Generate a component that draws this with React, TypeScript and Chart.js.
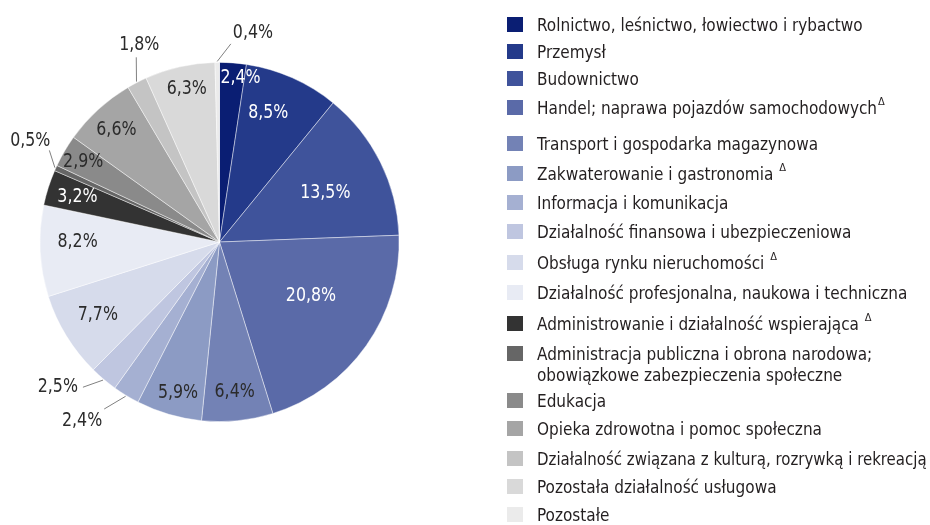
import React, { useEffect, useRef } from "react";
import { Chart, registerables } from "chart.js";

Chart.register(...registerables);

const categories: string[] = [
  "Rolnictwo, leśnictwo, łowiectwo i rybactwo",
  "Przemysł",
  "Budownictwo",
  "Handel; naprawa pojazdów samochodowych",
  "Transport i gospodarka magazynowa",
  "Zakwaterowanie i gastronomia ",
  "Informacja i komunikacja",
  "Działalność finansowa i ubezpieczeniowa",
  "Obsługa rynku nieruchomości ",
  "Działalność profesjonalna, naukowa i techniczna",
  "Administrowanie i działalność wspierająca ",
  "Administracja publiczna i obrona narodowa;\nobowiązkowe zabezpieczenia społeczne",
  "Edukacja",
  "Opieka zdrowotna i pomoc społeczna",
  "Działalność związana z kulturą, rozrywką i rekreacją",
  "Pozostała działalność usługowa",
  "Pozostałe",
];

const deltaMarked: boolean[] = [
  false, false, false, true, false, true, false, false, true, false, true,
  false, false, false, false, false, false,
];

const shares: number[] = [
  2.4, 8.5, 13.5, 20.8, 6.4, 5.9, 2.4, 2.5, 7.7, 8.2, 3.2, 0.5, 2.9, 6.6, 1.8, 6.3, 0.4,
];

const colors: string[] = [
  "#0a1e73", "#243a8a", "#3f539b", "#5a6aa8", "#7382b5", "#8c9bc4", "#a5b0d2",
  "#bfc6e0", "#d6dbeb", "#e8ebf4", "#333333", "#666666", "#8a8a8a", "#a5a5a5",
  "#c4c4c4", "#d9d9d9", "#ebebeb",
];

// label placement (style/layout only)
type LabelCfg =
  | { out?: false; da: number; rf: number; light: boolean }
  | { out: true; da: number; k: number; dx: number; dy: number; align: CanvasTextAlign };

const labelCfg: LabelCfg[] = [
  { da: 3, rf: 0.92, light: true },
  { da: -3.3, rf: 0.77, light: true },
  { da: 1.5, rf: 0.65, light: true },
  { da: -5, rf: 0.59, light: true },
  { da: 0, rf: 0.84, light: false },
  { da: -1, rf: 0.87, light: false },
  { out: true, da: 3.3, k: 1.13, dx: -2, dy: 12, align: "right" },
  { out: true, da: 3.1, k: 1.11, dx: -5, dy: 0, align: "right" },
  { da: 0.5, rf: 0.79, light: false },
  { da: 3, rf: 0.79, light: false },
  { da: 0, rf: 0.83, light: true },
  { out: true, da: 4, k: 1.076, dx: 1, dy: -10, align: "right" },
  { da: 0, rf: 0.88, light: false },
  { da: 0, rf: 0.85, light: false },
  { out: true, da: 3.1, k: 1.128, dx: 3, dy: -13, align: "center" },
  { da: 0.7, rf: 0.87, light: false },
  { out: true, da: 4, k: 1.105, dx: 2, dy: -11, align: "left" },
];

const legendSwatchY: number[] = [
  24, 51, 78, 107, 143, 173, 202, 231, 262, 292, 323, 353, 400, 428, 458, 486, 514,
];

const FONT = "'Liberation Sans Narrow', 'DejaVu Sans Condensed', 'Roboto Condensed', Arial, sans-serif";
const LEGEND_MAX_W = 390;

const fmt = (v: number) => v.toFixed(1).replace(".", ",") + "%";

const labelPlugin = {
  id: "sliceLabels",
  afterDatasetsDraw(chart: any) {
    const ctx = chart.ctx as CanvasRenderingContext2D;
    const meta = chart.getDatasetMeta(0);
    const data = chart.data.datasets[0].data as number[];
    const drawText = (text: string, x: number, y: number, align: CanvasTextAlign) => {
      ctx.save();
      ctx.translate(x, y);
      ctx.scale(0.88, 1);
      ctx.textAlign = align;
      ctx.fillText(text, 0, 0);
      ctx.restore();
    };
    ctx.save();
    ctx.font = `20px ${FONT}`;
    ctx.textBaseline = "middle";
    meta.data.forEach((arc: any, i: number) => {
      const p = arc.getProps(["x", "y", "startAngle", "endAngle", "outerRadius"], true);
      const mid = (p.startAngle + p.endAngle) / 2;
      const cfg = labelCfg[i];
      const text = fmt(data[i]);
      const deg = Math.PI / 180;
      if (cfg.out) {
        const sx = p.x + Math.cos(mid) * (p.outerRadius + 1);
        const sy = p.y + Math.sin(mid) * (p.outerRadius + 1);
        const a2 = mid + cfg.da * deg;
        const ex = p.x + Math.cos(a2) * p.outerRadius * cfg.k;
        const ey = p.y + Math.sin(a2) * p.outerRadius * cfg.k;
        ctx.strokeStyle = "#808080";
        ctx.lineWidth = 1;
        ctx.beginPath();
        ctx.moveTo(sx, sy);
        ctx.lineTo(ex, ey);
        ctx.stroke();
        ctx.fillStyle = "#2b2b2b";
        drawText(text, ex + cfg.dx, ey + cfg.dy, cfg.align);
      } else {
        const a = mid + cfg.da * deg;
        const r = p.outerRadius * cfg.rf;
        ctx.fillStyle = cfg.light ? "#ffffff" : "#2b2b2b";
        drawText(text, p.x + Math.cos(a) * r, p.y + Math.sin(a) * r, "center");
      }
    });
    ctx.restore();
  },
};

function App() {
  const canvasRef = useRef<HTMLCanvasElement | null>(null);
  const legendRef = useRef<HTMLDivElement | null>(null);

  useEffect(() => {
    if (!canvasRef.current) return;
    const chart = new Chart(canvasRef.current, {
      type: "pie",
      data: {
        labels: categories,
        datasets: [
          {
            data: shares,
            backgroundColor: colors,
            borderColor: "rgba(255,255,255,0.55)",
            borderWidth: 0.8,
          },
        ],
      },
      options: {
        responsive: false,
        animation: false,
        layout: { padding: { left: 39.5, top: 61.5, right: 530.5, bottom: 102.5 } },
        plugins: {
          legend: { display: false },
          tooltip: { enabled: false },
        },
      },
      plugins: [labelPlugin],
    });
    // fit over-long legend lines into the available width
    if (legendRef.current) {
      legendRef.current.querySelectorAll<HTMLElement>("[data-legend-text]").forEach((el) => {
        const w = el.scrollWidth;
        if (w > LEGEND_MAX_W) {
          el.style.transformOrigin = "0 50%";
          el.style.transform = `scaleX(${LEGEND_MAX_W / w})`;
        }
      });
    }
    return () => chart.destroy();
  }, []);

  return (
    <div
      ref={legendRef}
      style={{
        position: "fixed",
        left: 0,
        top: 0,
        width: 930,
        height: 525,
        background: "#ffffff",
        fontFamily: FONT,
        color: "#231f20",
        overflow: "hidden",
      }}
    >
      <canvas ref={canvasRef} width={930} height={525} style={{ position: "absolute", left: 0, top: 0 }} />
      {categories.map((name, i) => {
        const cy = legendSwatchY[i];
        return (
          <React.Fragment key={i}>
            <div
              style={{
                position: "absolute",
                left: 507,
                top: cy - 7.5,
                width: 16,
                height: 15,
                background: colors[i],
              }}
            />
            <div
              data-legend-text="1"
              style={{
                position: "absolute",
                left: 537,
                top: cy + 1.5 - 10.5,
                fontSize: 17,
                lineHeight: "21px",
                whiteSpace: "pre",
              }}
            >
              {name}
              {deltaMarked[i] ? (
                <span
                  style={{
                    fontSize: 11,
                    lineHeight: 0,
                    position: "relative",
                    top: -9,
                    marginLeft: 1,
                  }}
                >
                  Δ
                </span>
              ) : null}
            </div>
          </React.Fragment>
        );
      })}
    </div>
  );
}

export default App;
